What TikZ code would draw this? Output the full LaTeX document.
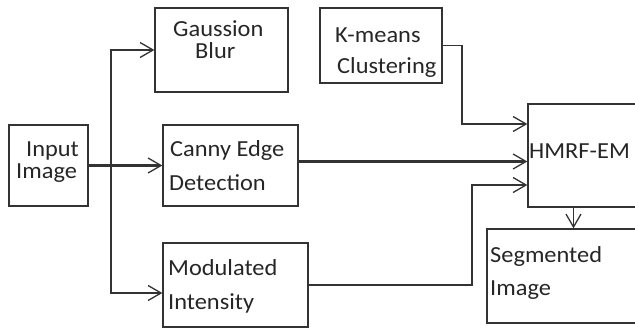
\documentclass[tikz,border=0pt]{standalone}
\usepackage{fontspec}
\setmainfont{Carlito}[FakeStretch=1.06]
\usetikzlibrary{arrows.meta}
\tikzset{
    every node/.style={inner sep=0mm},
    box/.style={rectangle, draw=black!80, line width=1.3pt},
    txt/.style={anchor=base west, text=black!85, font=\fontsize{23}{23}\selectfont},
    arr/.style={draw=black!80, line width=1.3pt, -{Straight Barb[length=13pt, width=15pt, line width=1.3pt]}},
    heavy/.style={line width=2.4pt}
}

\begin{document}
\begin{tikzpicture}[x=1pt, y=-1pt]
        \clip (0,0) rectangle (635,329);
        \node (input) [box, minimum width=79pt, minimum height=81pt] at (48.5,165.5) {};
        \node (gauss) [box, minimum width=133pt, minimum height=84pt] at (221.5,50) {};
        \node (canny) [box, minimum width=135pt, minimum height=81pt] at (230.5,165.5) {};
        \node (modul) [box, minimum width=145pt, minimum height=84pt] at (235.5,285) {};
        \node (kmeans) [box, minimum width=122pt, minimum height=75pt] at (381,45.5) {};
        \node (hmrf) [box, minimum width=132pt, minimum height=103pt] at (594,155.5) {};
        \node (segm) [box, minimum width=173pt, minimum height=94pt] at (573.5,276) {};
        % labels
        \node (input-a) [txt] at (26,156) {Input};
        \node (input-b) [txt] at (16,178) {Image};
        \node (gauss-a) [txt] at (173,37) {Gaussion};
        \node (gauss-b) [txt] at (195,59) {Blur};
        \node (canny-a) [txt] at (170,157) {Canny Edge};
        \node (canny-b) [txt] at (169,190) {Detection};
        \node (modul-a) [txt] at (168,275) {Modulated};
        \node (modul-b) [txt] at (168,309) {Intensity};
        \node (kmeans-a) [txt] at (335,43) {K-means};
        \node (kmeans-b) [txt] at (337,74) {Clustering};
        \node (hmrf-a) [txt] at (529,158) {HMRF-EM};
        \node (segm-a) [txt] at (490,262) {Segmented};
        \node (segm-b) [txt] at (490,295) {Image};
        % connectors
        \coordinate (split) at (111,165.5);
        \coordinate (c1) at ([yshift=4pt]canny.east);
        \coordinate (k1) at (462,124);
        \coordinate (m1) at (472,185);
        \draw [arr, heavy] (input.east) -- (canny.west);
        \draw [arr] (split) |- (gauss.west);
        \draw [arr] (split) |- ([yshift=-8pt]modul.west);
        \draw [arr, heavy] (c1) -- (c1 -| hmrf.west);
        \draw [arr] (kmeans.east) -| (k1) -- (k1 -| hmrf.west);
        \draw [arr] (modul.east) -| (m1) -- (m1 -| hmrf.west);
        \draw [arr] (hmrf.south -| segm.north) -- (segm.north);
\end{tikzpicture}
\end{document}
